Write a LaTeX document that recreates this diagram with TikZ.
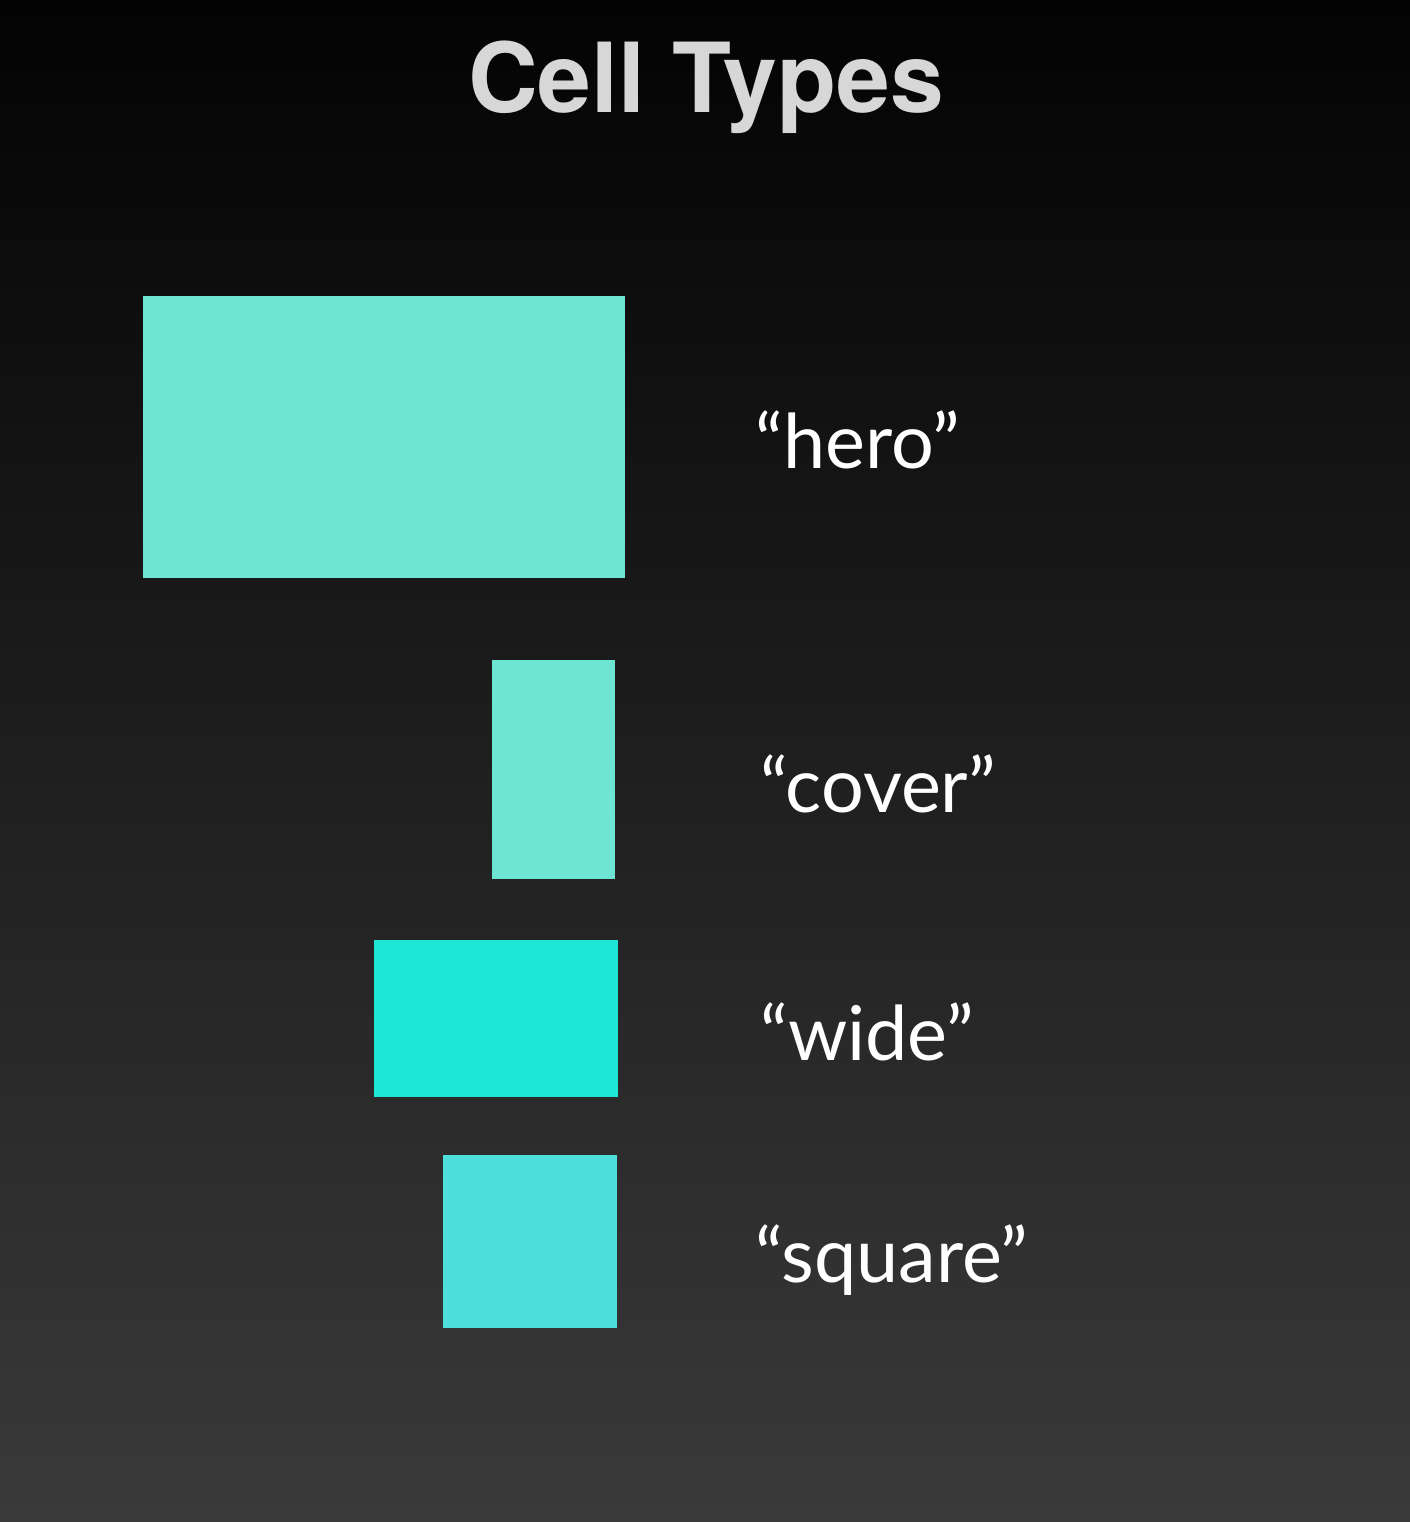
\documentclass[tikz,border=0pt]{standalone}
\usepackage{fontspec}
\setmainfont{Lato}
\newfontfamily\headfont{TeX Gyre Heros}
\usetikzlibrary{positioning}
\definecolor{bgtop}{RGB}{3,3,3}
\definecolor{bgbottom}{RGB}{58,58,58}
\definecolor{cellmint}{RGB}{110,228,210}
\definecolor{cellaqua}{RGB}{30,230,214}
\definecolor{cellcyan}{RGB}{77,223,218}
\definecolor{headgray}{RGB}{215,215,215}
\newcommand{\cellrect}[3]{\fill[#1] #2 rectangle #3;}
\tikzset{
  typelabel/.style={anchor=base west,text=white,inner sep=0pt,
    font=\fontsize{43}{50}\selectfont},
  headline/.style={text=headgray,inner sep=0pt,
    font=\headfont\bfseries\fontsize{55}{62}\selectfont}
}

\begin{document}
\begin{tikzpicture}[x=0.02cm,y=-0.02cm]
		\shade[top color=bgtop,bottom color=bgbottom] (0,0) rectangle (1410,1522);
		\useasboundingbox (0,0) rectangle (1410,1522);
		\node[headline] (title) at (706,87) {Cell Types};
		\cellrect{cellmint}{(143,296)}{(625,578)}
		\cellrect{cellmint}{(492,660)}{(615,879)}
		\cellrect{cellaqua}{(374,940)}{(618,1097)}
		\cellrect{cellcyan}{(443,1155)}{(617,1328)}
		\node[typelabel] (hero) at (755,468) {“hero”};
		\node[typelabel] (cover) at (760,812) {“cover”};
		\node[typelabel] (wide) at (760,1060) {“wide”};
		\node[typelabel] (square) at (755,1282) {“square”};
\end{tikzpicture}
\end{document}
